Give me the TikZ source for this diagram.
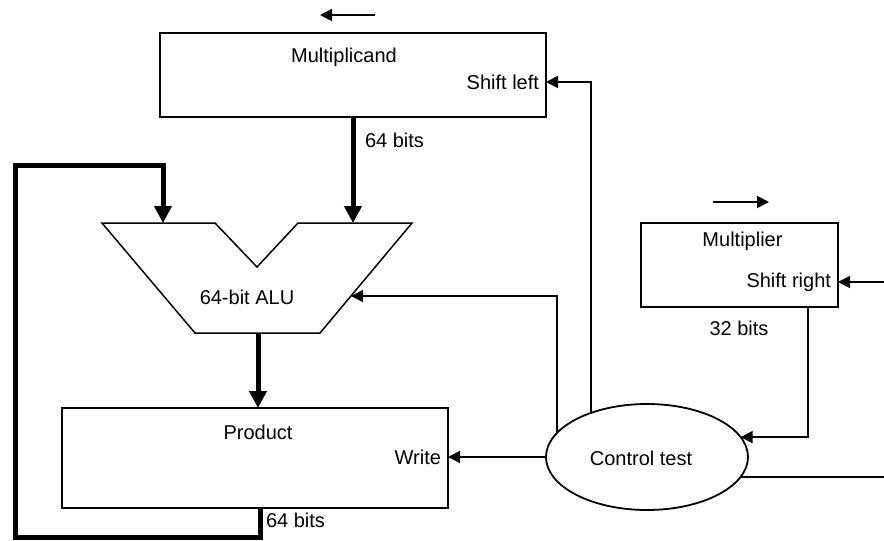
\documentclass[tikz,border=0pt]{standalone}
\usepackage{fontspec}
\setmainfont{Liberation Sans}
\usetikzlibrary{arrows.meta,shapes.geometric}
\begin{document}
\begin{tikzpicture}[x=1pt,y=-1pt,
  every node/.style={font=\fontsize{20}{24}\selectfont, inner sep=0pt, outer sep=0pt},
  regbox/.style={draw, line width=1.8pt, minimum width=#1, rectangle},
  thinline/.style={line width=1.8pt, line join=miter},
  thinarrow/.style={thinline, -{Triangle[length=12pt,width=12pt]}},
  busline/.style={line width=5pt, line join=miter},
  busarrow/.style={busline, -{Triangle[length=17pt,width=17pt]}}]
  \useasboundingbox (0,0) rectangle (884,541);
  \fill[white] (0,0) rectangle (884,541);

  % registers
  \node[regbox=386pt, minimum height=84pt] (mc) at (353,75) {};
  \node (mctext) at (344,57) {Multiplicand};
  \node[anchor=east] (mcshift) at (539,82) {Shift left};

  \node[regbox=386pt, minimum height=100pt] (pr) at (255,458) {};
  \node (prtext) at (258,432) {Product};
  \node[anchor=east] (prwrite) at (441,457) {Write};

  \node[regbox=197pt, minimum height=84pt] (mr) at (739.5,265) {};
  \node (mrtext) at (742.5,241) {Multiplier};
  \node[anchor=east] (mrshift) at (831,282) {Shift right};

  % control unit
  \node[draw, ellipse, line width=1.8pt, minimum width=202pt, minimum height=106pt] (ct) at (647,457) {};
  \node (cttext) at (641,458) {Control test};

  % ALU outline
  \coordinate (a1) at (102,223);
  \coordinate (a2) at (215,223);
  \coordinate (a3) at (257,267);
  \coordinate (a4) at (298,223);
  \coordinate (a5) at (412,223);
  \coordinate (a6) at (320,333);
  \coordinate (a7) at (195,333);
  \draw[line width=1.5pt, line join=miter] (a1) -- (a2) -- (a3) -- (a4) -- (a5) -- (a6) -- (a7) -- cycle;
  \node (alutext) at (247,297) {64-bit ALU};
  \coordinate (aluinL) at (163,223);
  \coordinate (aluinR) at (353,223);
  \coordinate (aluout) at (258,333);
  \coordinate (aluctl) at (351,296);

  % data paths
  \draw[busarrow] (mc.south) -- (aluinR);
  \node[anchor=west] (bits1) at (365,140) {64 bits};
  \draw[busarrow] (aluout) -- (aluout |- pr.north);
  \coordinate (fb1) at (260,537);
  \coordinate (fb2) at (15,165);
  \draw[busarrow] (pr.south -| fb1) -- (fb1) -| (fb2) -| (aluinL);
  \node[anchor=west] (bits2) at (266,520) {64 bits};
  \node (bits3) at (739,328) {32 bits};

  % shift direction marks
  \coordinate (ls1) at (375,15);
  \coordinate (ls2) at (320,15);
  \draw[thinarrow] (ls1) -- (ls2);
  \coordinate (rs1) at (713,202);
  \coordinate (rs2) at (769,202);
  \draw[thinarrow] (rs1) -- (rs2);

  % control signals
  \coordinate (mcin) at (546,82);
  \draw[thinarrow] (ct.142.5) |- (mcin);
  \draw[thinarrow] (ct.165.8) |- (aluctl);
  \draw[thinarrow] (ct.west) -- (ct.west -| pr.east);
  \coordinate (mrin) at (884,282);
  \draw[thinarrow] (mrin) -- (mrin -| mr.east);
  \coordinate (mrout) at (808,307);
  \draw[thinarrow] (mrout) |- (ct.12.1);
  \coordinate (ctout) at (884,478);
  \draw[thinline] (ct.-12.8) -- (ctout |- ct.-12.8);
\end{tikzpicture}
\end{document}
